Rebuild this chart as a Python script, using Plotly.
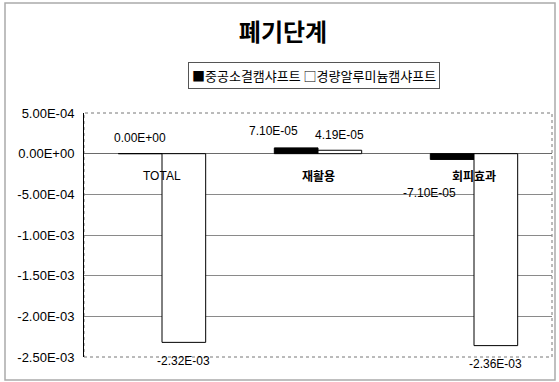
import plotly.graph_objects as go

categories = ["TOTAL", "재활용", "회피효과"]
series_names = ["중공소결캠샤프트", "경량알루미늄캠샤프트"]
series_symbols = ["■", "□"]
hollow_values = [0.0, 7.10e-05, -7.10e-05]
alu_values = [-2.32e-03, 4.19e-05, -2.36e-03]
tick_vals = [5e-4, 0, -5e-4, -1e-3, -1.5e-3, -2e-3, -2.5e-3]
tick_text = [f"{v:.2E}" for v in tick_vals]

FONT = "Liberation Sans, Arial, sans-serif"
KFONT = "Noto Sans CJK KR, sans-serif"

fig = go.Figure()
fig.add_trace(go.Bar(x=categories, y=hollow_values, name=series_names[0], showlegend=False,
                     marker=dict(color="black", line=dict(color="black", width=1))))
fig.add_trace(go.Bar(x=categories, y=alu_values, name=series_names[1], showlegend=False,
                     marker=dict(color="white", line=dict(color="black", width=1))))

ann = []
# data labels: anchored at data values, with pixel offsets
lab_cfg_hollow = [(0, "bottom", 7), (-23, "bottom", 8), (-23, "top", -25)]
lab_cfg_alu = [(0, "top", -10), (0, "bottom", 6), (0, "top", -9)]
for i, v in enumerate(hollow_values):
    xs, ya, ys = lab_cfg_hollow[i]
    ann.append(dict(x=i - 0.14, y=v, xref="x", yref="y", text=f"{v:.2E}", showarrow=False,
                    xshift=xs, yanchor=ya, yshift=ys,
                    font=dict(family=FONT, size=12, color="black")))
for i, v in enumerate(alu_values):
    xs, ya, ys = lab_cfg_alu[i]
    ann.append(dict(x=i + 0.14, y=v, xref="x", yref="y", text=f"{v:.2E}", showarrow=False,
                    xshift=xs, yanchor=ya, yshift=ys,
                    font=dict(family=FONT, size=12, color="black")))
# category labels next to zero line
for i, c in enumerate(categories):
    is_k = c != "TOTAL"
    ann.append(dict(x=i, y=0, xref="x", yref="y", text=(f"<b>{c}</b>" if is_k else c),
                    showarrow=False, yanchor="middle", yshift=-22,
                    font=dict(family=KFONT if is_k else FONT, size=12, color="black")))
# legend box
legend_text = " ".join(f"{s}{n}" for s, n in zip(series_symbols, series_names))
ann.append(dict(x=(314 - 84) / 468, y=(357 - 75.5) / 244, xref="paper", yref="paper",
                text=legend_text, showarrow=False, xanchor="center", yanchor="middle",
                bordercolor="#555", borderwidth=1, borderpad=3, bgcolor="white",
                font=dict(family=KFONT, size=13, color="black")))

fig.update_layout(
    width=559, height=382,
    margin=dict(l=84, r=7, t=113, b=25),
    paper_bgcolor="white", plot_bgcolor="white",
    barmode="group", bargap=0.44, bargroupgap=0,
    title=dict(text="<b>폐기단계</b>", x=283 / 559, xref="container", xanchor="center",
               y=1 - 32.5 / 382, yref="container", yanchor="middle",
               font=dict(family=KFONT, size=24, color="black")),
    xaxis=dict(showticklabels=False, showgrid=False, zeroline=False, showline=False,
               range=[-0.5, 2.5], fixedrange=True),
    yaxis=dict(range=[-2.5e-3, 5e-4], tickvals=tick_vals, ticktext=tick_text,
               showgrid=True, gridcolor="#8a8a8a", gridwidth=1,
               zeroline=True, zerolinecolor="#6a6a6a", zerolinewidth=1,
               showline=True, linecolor="black", linewidth=1,
               ticklabelstandoff=6,
               tickfont=dict(family=FONT, size=13, color="black")),
    annotations=ann,
    showlegend=False,
    shapes=[
        dict(type="rect", xref="paper", yref="paper", x0=0, x1=1, y0=0, y1=1,
             line=dict(color="#777", width=1, dash="dot"), layer="below"),
        dict(type="rect", xref="paper", yref="paper",
             x0=(5 - 84) / 468, x1=(555 - 84) / 468, y0=(357 - 380) / 244, y1=(357 - 3) / 244,
             line=dict(color="#aaa", width=1.5), layer="below"),
    ],
)

fig.write_html("out.html")
